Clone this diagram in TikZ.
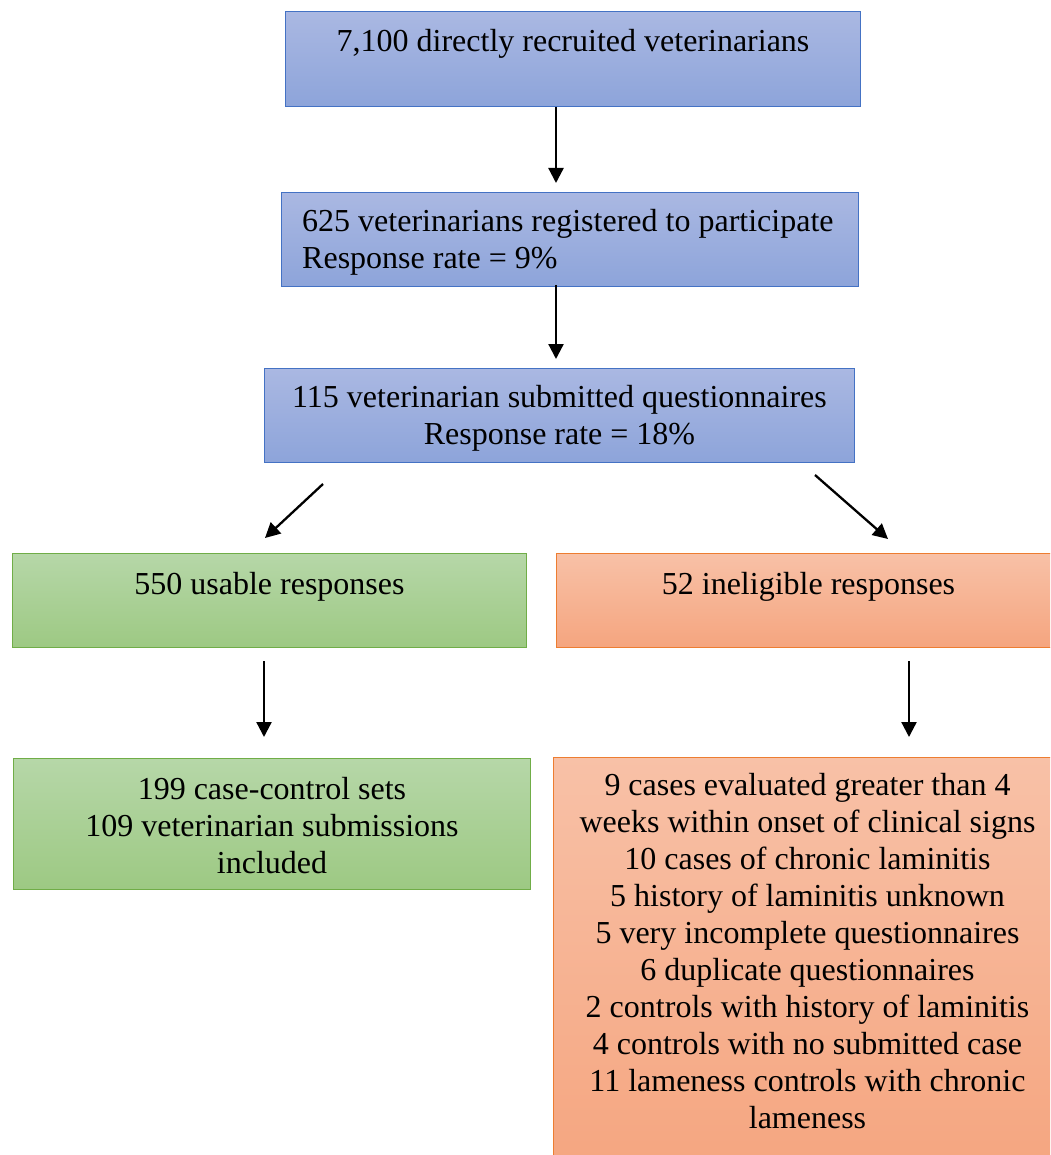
\documentclass[tikz,border=0pt]{standalone}
\usepackage{fontspec}
\setmainfont{Liberation Serif}
\usetikzlibrary{arrows.meta,positioning}

\definecolor{blueTop}{RGB}{170,184,226}
\definecolor{blueBot}{RGB}{141,164,218}
\definecolor{blueLine}{RGB}{68,114,196}
\definecolor{greenTop}{RGB}{182,215,168}
\definecolor{greenBot}{RGB}{157,201,131}
\definecolor{greenLine}{RGB}{112,173,71}
\definecolor{orangeTop}{RGB}{248,193,167}
\definecolor{orangeBot}{RGB}{245,165,127}
\definecolor{orangeLine}{RGB}{237,125,49}

\tikzset{
  flowbox/.style={rectangle, line width=1pt, anchor=north west, inner sep=0pt},
  bluebox/.style={flowbox, draw=blueLine, top color=blueTop, bottom color=blueBot},
  greenbox/.style={flowbox, draw=greenLine, top color=greenTop, bottom color=greenBot},
  orangebox/.style={flowbox, draw=orangeLine, top color=orangeTop, bottom color=orangeBot},
  boxtext/.style={inner sep=0pt, anchor=base, align=center, font=\fontsize{32}{37}\selectfont},
  flowarrow/.style={line width=2.3pt, -{Triangle[length=15pt,width=15pt]}}
}

\begin{document}
\begin{tikzpicture}[x=1pt, y=-1pt]
        \useasboundingbox (0,0) rectangle (1050,1155);
        \clip (0,0) rectangle (1050,1155);

        % Kaestchen
        \node[bluebox, minimum width=575pt, minimum height=95pt] (recruit) at (285,11) {};
        \node[bluebox, minimum width=577pt, minimum height=94pt] (register) at (281,192) {};
        \node[bluebox, minimum width=590pt, minimum height=94pt] (submit) at (264,368) {};
        \node[greenbox, minimum width=514pt, minimum height=94pt] (usable) at (12,553) {};
        \node[orangebox, minimum width=505pt, minimum height=94pt] (inelig) at (556,553) {};
        \node[greenbox, minimum width=517pt, minimum height=131pt] (included) at (13,758) {};
        \node[orangebox, minimum width=508pt, minimum height=420pt] (reasons) at (553,757) {};

        % Texte (base = Grundlinie der letzten Zeile)
        \node[boxtext] (recruittxt) at ([yshift=-41pt]recruit.north) {7,100 directly recruited veterinarians};
        \node[boxtext, anchor=base west, align=left] (registertxt) at ([xshift=21pt, yshift=-77pt]register.north west)
          {625 veterinarians registered to participate\\Response rate = 9\%};
        \node[boxtext] (submittxt) at ([yshift=-76pt]submit.north)
          {115 veterinarian submitted questionnaires\\Response rate = 18\%};
        \node[boxtext] (usabletxt) at ([yshift=-41pt]usable.north) {550 usable responses};
        \node[boxtext] (ineligtxt) at ([xshift=-0.5pt, yshift=-41pt]inelig.north) {52 ineligible responses};
        \node[boxtext] (includedtxt) at ([yshift=-115pt]included.north)
          {199 case-control sets\\109 veterinarian submissions\\included};
        \node[boxtext] (reasonstxt) at ([yshift=-371pt]reasons.north)
          {9 cases evaluated greater than 4\\
           weeks within onset of clinical signs\\
           10 cases of chronic laminitis\\
           5 history of laminitis unknown\\
           5 very incomplete questionnaires\\
           6 duplicate questionnaires\\
           2 controls with history of laminitis\\
           4 controls with no submitted case\\
           11 lameness controls with chronic\\
           lameness};

        % Pfeile
        \coordinate (a1s) at (556,107);  \coordinate (a1e) at (556,183);
        \coordinate (a2s) at (556,285);  \coordinate (a2e) at (556,359);
        \coordinate (a3s) at (323,484);  \coordinate (a3e) at (265,538);
        \coordinate (a4s) at (815,475);  \coordinate (a4e) at (888,539);
        \coordinate (a5s) at (264,661);  \coordinate (a5e) at (264,737);
        \coordinate (a6s) at (909,661);  \coordinate (a6e) at (909,737);
        \draw[flowarrow] (a1s) -- (a1e);
        \draw[flowarrow] (a2s) -- (a2e);
        \draw[flowarrow] (a3s) -- (a3e);
        \draw[flowarrow] (a4s) -- (a4e);
        \draw[flowarrow] (a5s) -- (a5e);
        \draw[flowarrow] (a6s) -- (a6e);
      \end{tikzpicture}
\end{document}
